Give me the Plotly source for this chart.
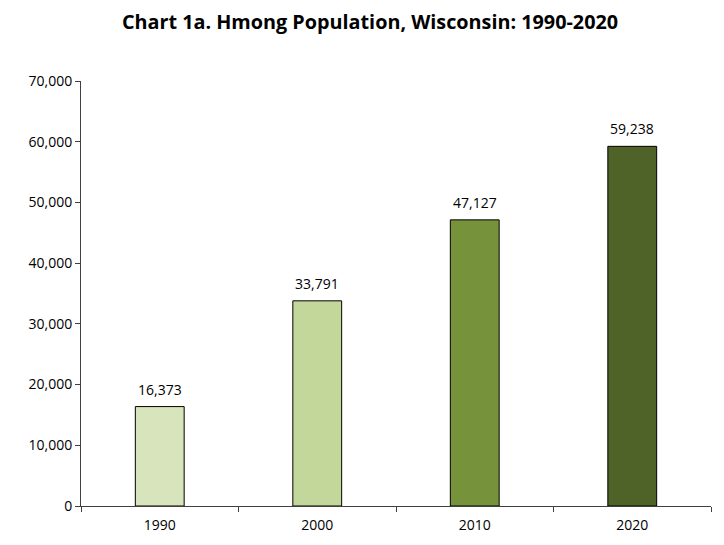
import plotly.graph_objects as go

years = ["1990", "2000", "2010", "2020"]
population = [16373, 33791, 47127, 59238]
colors = ["#D8E4BC", "#C4D79B", "#76933C", "#4F6228"]
y_ticks = [0, 10000, 20000, 30000, 40000, 50000, 60000, 70000]

font = "Open Sans, Liberation Sans, sans-serif"
axis_color = "#404040"

fig = go.Figure(go.Bar(
    x=years, y=population,
    marker=dict(color=colors, line=dict(color="#000000", width=1)),
    width=0.31,
))

for i, v in enumerate(population):
    fig.add_annotation(x=i, y=v, text=f"{v:,}", showarrow=False,
                       yanchor="bottom", yshift=6,
                       font=dict(size=14, color="#000000", family=font))

fig.update_layout(
    width=724, height=545,
    margin=dict(l=73, r=21, t=73, b=47),
    paper_bgcolor="white", plot_bgcolor="white",
    title=dict(text="<b>Chart 1a. Hmong Population, Wisconsin: 1990-2020</b>",
               x=0.5, xanchor="center", xref="container", y=0.974, yanchor="middle",
               font=dict(size=19.8, color="#000000", family=font)),
    font=dict(family=font, size=14, color="#000000"),
    showlegend=False,
)
fig.update_xaxes(
    type="category", categoryorder="array", categoryarray=years,
    showline=True, linecolor=axis_color, linewidth=1,
    ticks="outside", tickson="boundaries", ticklen=5, tickcolor=axis_color,
    tickfont=dict(size=14), showgrid=False, ticklabelstandoff=6,
    tickangle=0,
)
fig.update_yaxes(
    range=[0, 70000], tickvals=y_ticks, tickformat=",",
    showline=True, linecolor=axis_color, linewidth=1,
    ticks="outside", ticklen=5, tickcolor=axis_color,
    tickfont=dict(size=14), showgrid=False, zeroline=False,
)

fig.write_html("out.html")
